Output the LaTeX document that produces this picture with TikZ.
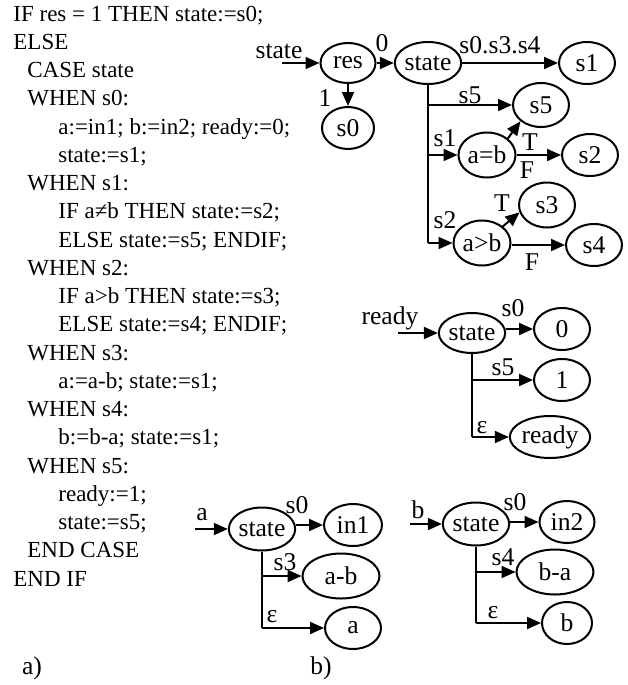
\documentclass[tikz,border=0pt]{standalone}
\usepackage{fontspec}
\setmainfont{Liberation Serif}
\usetikzlibrary{arrows.meta,shapes.geometric}

\tikzset{
	st/.style={ellipse,draw,line width=1pt,minimum width=28pt,minimum height=21pt,inner sep=0pt,font=\fontsize{12.8}{14}\selectfont},
	lbl/.style={inner sep=0pt,font=\fontsize{12.8}{14}\selectfont},
	code/.style={anchor=base west,inner sep=0pt,font=\fontsize{11.5}{14}\selectfont},
	arr/.style={-{Triangle[length=7pt,width=6pt]},line width=1pt},
	ln/.style={line width=1pt},
}

\begin{document}
\begin{tikzpicture}[x=0.5pt,y=-0.5pt]
		\useasboundingbox (0,0) rectangle (627,685);
		
		% a) program text
		\node[code] (c1) at (13,21) {IF res = 1 THEN state:=s0;};
		\node[code] (c2) at (13,49.25) {ELSE};
		\node[code] (c3) at (27,77.5) {CASE state};
		\node[code] (c4) at (27,105.75) {WHEN s0:};
		\node[code] (c5) at (58,134) {a:=in1; b:=in2; ready:=0;};
		\node[code] (c6) at (58,162.25) {state:=s1;};
		\node[code] (c7) at (27,190.5) {WHEN s1:};
		\node[code] (c8) at (58,218.75) {IF a≠b THEN state:=s2;};
		\node[code] (c9) at (58,247) {ELSE state:=s5; ENDIF;};
		\node[code] (c10) at (27,275.25) {WHEN s2:};
		\node[code] (c11) at (58,303.5) {IF a>b THEN state:=s3;};
		\node[code] (c12) at (58,331.75) {ELSE state:=s4; ENDIF;};
		\node[code] (c13) at (27,360) {WHEN s3:};
		\node[code] (c14) at (58,388.25) {a:=a-b; state:=s1;};
		\node[code] (c15) at (27,416.5) {WHEN s4:};
		\node[code] (c16) at (58,444.75) {b:=b-a; state:=s1;};
		\node[code] (c17) at (27,473) {WHEN s5:};
		\node[code] (c18) at (58,501.25) {ready:=1;};
		\node[code] (c19) at (58,529.5) {state:=s5;};
		\node[code] (c20) at (27,557.75) {END CASE};
		\node[code] (c21) at (13,586) {END IF};
		
		\node[lbl] (pa) at (32,668) {a)};
		\node[lbl] (pb) at (321,668) {b)};
		
		% b) state
		\coordinate (instate) at (282,63);
		\node[st,minimum width=27.5pt,minimum height=20pt] (res) at (348,63) {res};
		\node[st,minimum width=31.5pt] (st1) at (428,63) {state};
		\node[st] (s1) at (587,63) {s1};
		\node[st,minimum width=26pt] (s0) at (348,128) {s0};
		\node[st,minimum height=22pt] (s5) at (541,105) {s5};
		\node[st,minimum width=28.5pt,minimum height=22.5pt] (ab1) at (487,155) {a=b};
		\node[st] (s2) at (590,155) {s2};
		\node[st,minimum height=22.5pt] (s3) at (547,205) {s3};
		\node[st,minimum width=28.5pt,minimum height=22.5pt] (ab2) at (482,243) {a>b};
		\node[st] (s4) at (594,245) {s4};
		
		\draw[arr] (instate) -- (res);
		\draw[arr] (res) -- (st1);
		\draw[arr] (res) -- (s0);
		\draw[arr] (st1) -- (s1);
		\draw[ln] (st1.south) -- (st1.south |- ab2);
		\draw[arr] (st1.south |- s5) -- (s5);
		\draw[arr] (st1.south |- ab1) -- (ab1);
		\draw[arr] (st1.south |- ab2) -- (ab2);
		\draw[arr] (ab1.north east) -- (s5.south west);
		\draw[arr] (ab1) -- (s2);
		\draw[arr] (ab2.north east) -- (s3.195);
		\draw[arr] (ab2.east |- s4) -- (s4);
		
		\node[lbl] (lstate) at (279,51) {state};
		\node[lbl] (l0) at (382,43) {0};
		\node[lbl] (l1) at (325,98) {1};
		\node[lbl] (ls034) at (500,45) {s0.s3.s4};
		\node[lbl] (ls5) at (470,95) {s5};
		\node[lbl] (ls1) at (445,138) {s1};
		\node[lbl] (lt1) at (530,142) {T};
		\node[lbl] (lf1) at (527,170) {F};
		\node[lbl] (ls2) at (445,220) {s2};
		\node[lbl] (lt2) at (502,203) {T};
		\node[lbl] (lf2) at (532,262) {F};
		
		% b) ready
		\coordinate (inready) at (398,333);
		\node[st,minimum width=33pt,minimum height=20pt] (st2) at (472,333) {state};
		\node[st] (r0) at (562,329) {0};
		\node[st] (r1) at (562,380) {1};
		\node[st,minimum width=35pt] (rdy) at (550,437) {ready};
		
		\draw[arr] (inready) -- (st2);
		\draw[arr] (st2.east |- r0) -- (r0);
		\draw[ln] (st2.south) -- (st2.south |- rdy);
		\draw[arr] (st2.south |- r1) -- (r1);
		\draw[arr] (st2.south |- rdy) -- (rdy);
		
		\node[lbl] (lready) at (390,318) {ready};
		\node[lbl] (lr0) at (513,308) {s0};
		\node[lbl] (lr5) at (503,367) {s5};
		\node[lbl] (lre) at (482,428) {ε};
		
		% b) a
		\coordinate (ina) at (195,529);
		\node[st,minimum width=32.5pt,minimum height=21.5pt] (st3) at (262,529) {state};
		\node[st,minimum width=29pt] (in1) at (353,525) {in1};
		\node[st,minimum width=38.5pt,minimum height=22.5pt] (amb) at (341,576) {a-b};
		\node[st] (aa) at (353,628) {a};
		
		\draw[arr] (ina) -- (st3);
		\draw[arr] (st3.east |- in1) -- (in1);
		\draw[ln] (st3.south) -- (st3.south |- aa);
		\draw[arr] (st3.south |- amb) -- (amb);
		\draw[arr] (st3.south |- aa) -- (aa);
		
		\node[lbl] (la) at (202,515) {a};
		\node[lbl] (la0) at (297,505) {s0};
		\node[lbl] (la3) at (285,562) {s3};
		\node[lbl] (lae) at (272,617) {ε};
		
		% b) b
		\coordinate (inb) at (410,524);
		\node[st,minimum width=32.5pt,minimum height=21.5pt] (st4) at (476,524) {state};
		\node[st,minimum width=27.5pt] (in2) at (567,522) {in2};
		\node[st,minimum width=38.5pt,minimum height=22.5pt] (bma) at (555,572) {b-a};
		\node[st,minimum width=25pt] (bb) at (567,623) {b};
		
		\draw[arr] (inb) -- (st4);
		\draw[arr] (st4.east |- in2) -- (in2);
		\draw[ln] (st4.south) -- (st4.south |- bb);
		\draw[arr] (st4.south |- bma) -- (bma);
		\draw[arr] (st4.south |- bb) -- (bb);
		
		\node[lbl] (lb) at (418,510) {b};
		\node[lbl] (lb0) at (515,502) {s0};
		\node[lbl] (lb4) at (503,557) {s4};
		\node[lbl] (lbe) at (493,613) {ε};
		
	\end{tikzpicture}
\end{document}
